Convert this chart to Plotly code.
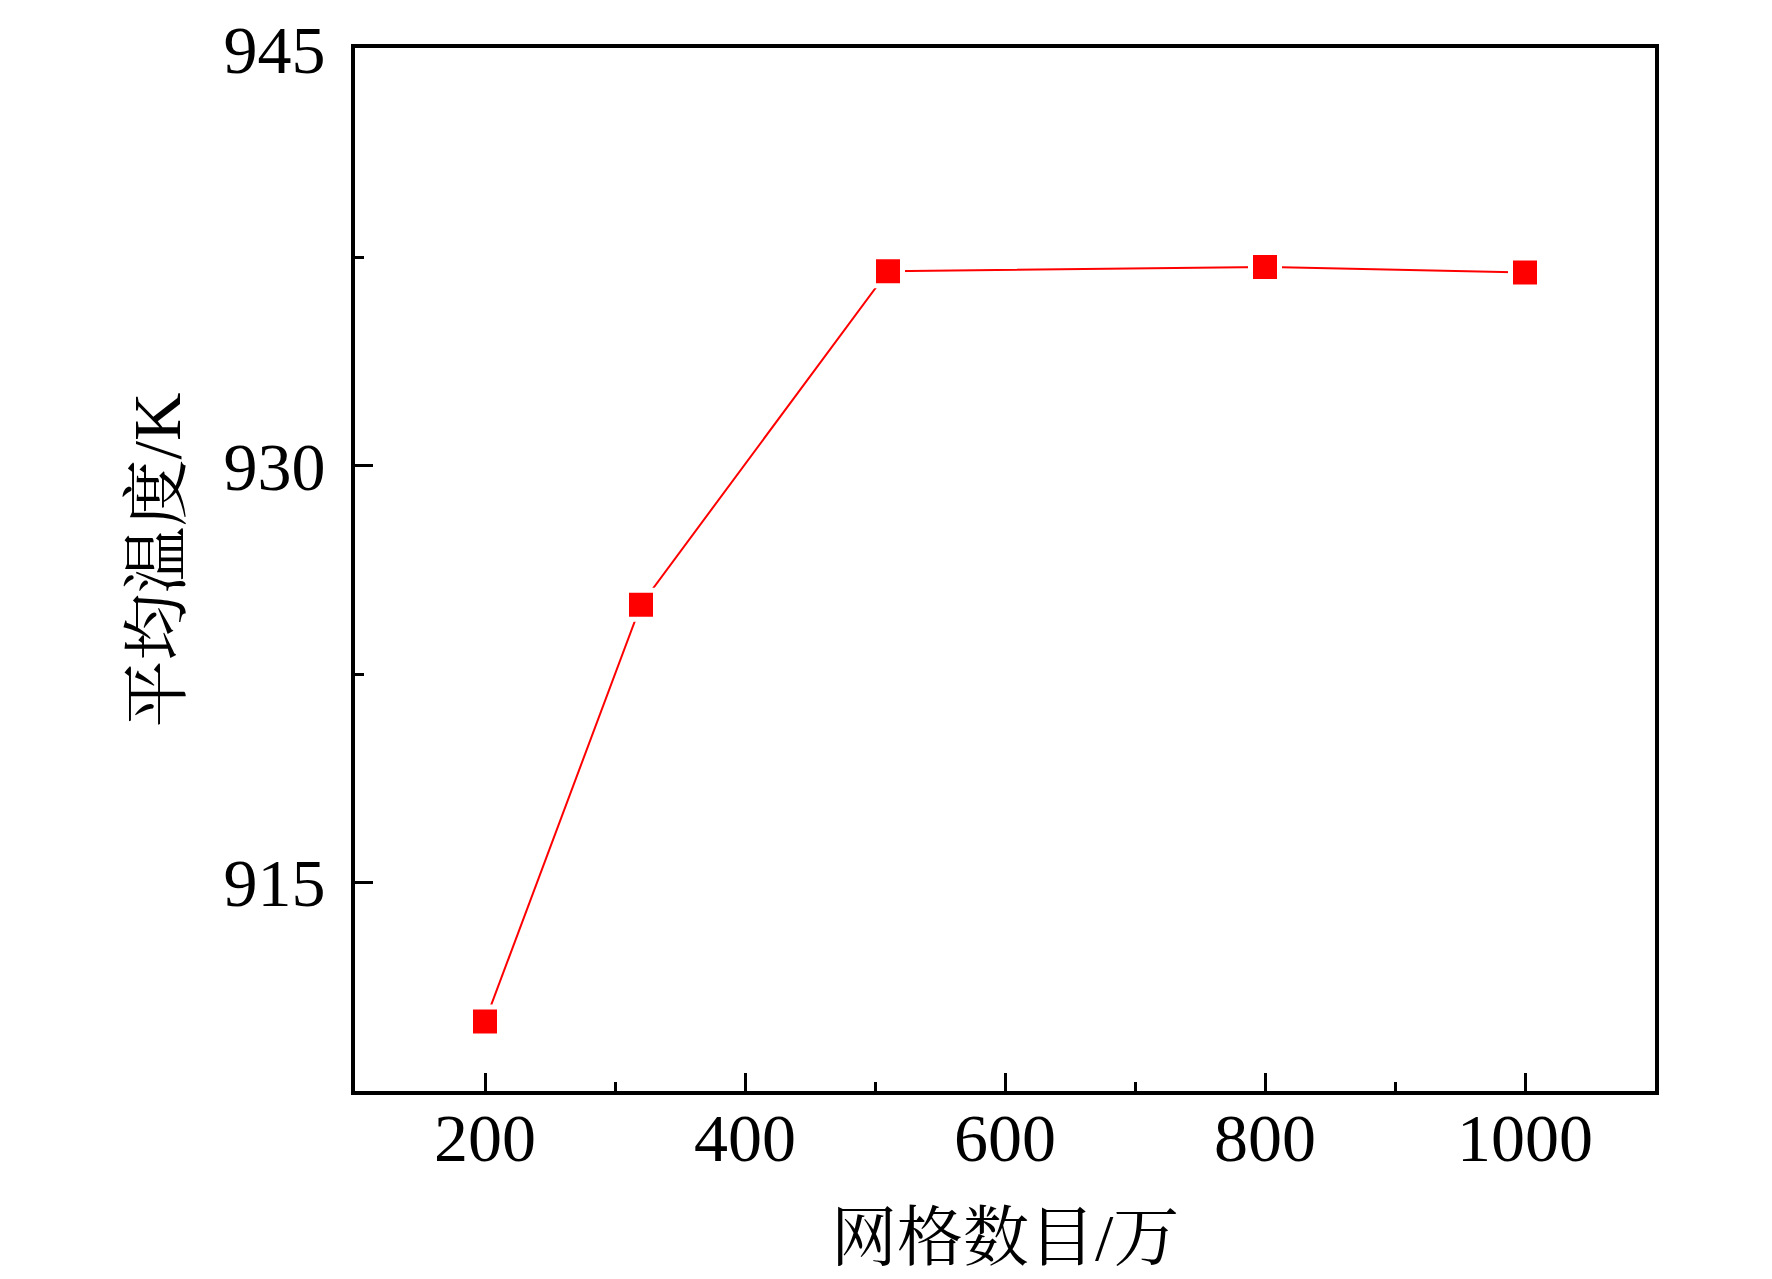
"""Mesh independence check: mean temperature vs. mesh count."""
import plotly.graph_objects as go

# mesh count (10^4 cells) and mean temperature (K)
MESH_COUNT = [200, 320, 510, 800, 1000]
MEAN_TEMP = [910.0, 925.0, 937.0, 937.15, 936.95]

X_TICKS = [200, 400, 600, 800, 1000]
Y_TICKS = [915, 930, 945]

X_TITLE = "网格数目/万"
Y_TITLE = "平均温度/K"

LATIN = "Liberation Serif, Times New Roman, serif"
MIXED = "Liberation Serif, Noto Serif CJK SC, Noto Sans CJK SC, serif"
RED = "#ff0000"


def main() -> None:
    fig = go.Figure()
    fig.add_trace(
        go.Scatter(
            x=MESH_COUNT,
            y=MEAN_TEMP,
            mode="lines+markers",
            line=dict(color=RED, width=2),
            # white outline leaves the small gap between line and marker
            marker=dict(symbol="square", size=29, color=RED,
                        line=dict(color="white", width=5)),
            showlegend=False,
            cliponaxis=False,
        )
    )

    axis_common = dict(
        showline=True,
        linecolor="black",
        linewidth=4,
        mirror=True,
        ticks="inside",
        ticklen=18,
        tickwidth=3,
        tickcolor="black",
        showgrid=False,
        zeroline=False,
        automargin=False,
        ticklabeloverflow="allow",
        tickfont=dict(family=LATIN, size=68, color="black"),
    )

    fig.update_xaxes(
        range=[100, 1100],
        tickvals=X_TICKS,
        minor=dict(ticks="inside", ticklen=9, tickwidth=3, tickcolor="black",
                   tick0=100, dtick=100, showgrid=False),
        ticklabelstandoff=-16,
        **axis_common,
    )
    fig.update_yaxes(
        range=[907.5, 945.03],
        tickvals=Y_TICKS,
        minor=dict(ticks="inside", ticklen=9, tickwidth=3, tickcolor="black",
                   tick0=907.5, dtick=7.5, showgrid=False),
        ticklabelstandoff=12,
        **axis_common,
    )

    fig.add_annotation(
        text=X_TITLE, xref="paper", yref="paper", x=0.5, y=-0.14,
        xanchor="center", yanchor="middle", showarrow=False,
        font=dict(family=MIXED, size=66, color="black"),
    )
    fig.add_annotation(
        text=Y_TITLE, xref="paper", yref="paper", x=-0.152, y=0.509,
        xanchor="center", yanchor="middle", showarrow=False, textangle=-90,
        font=dict(family=MIXED, size=67, color="black"),
    )

    fig.update_layout(
        width=1772,
        height=1279,
        margin=dict(l=347, r=125, t=40, b=196),
        plot_bgcolor="white",
        paper_bgcolor="white",
    )
    fig.write_html("out.html")


if __name__ == "__main__":
    main()
